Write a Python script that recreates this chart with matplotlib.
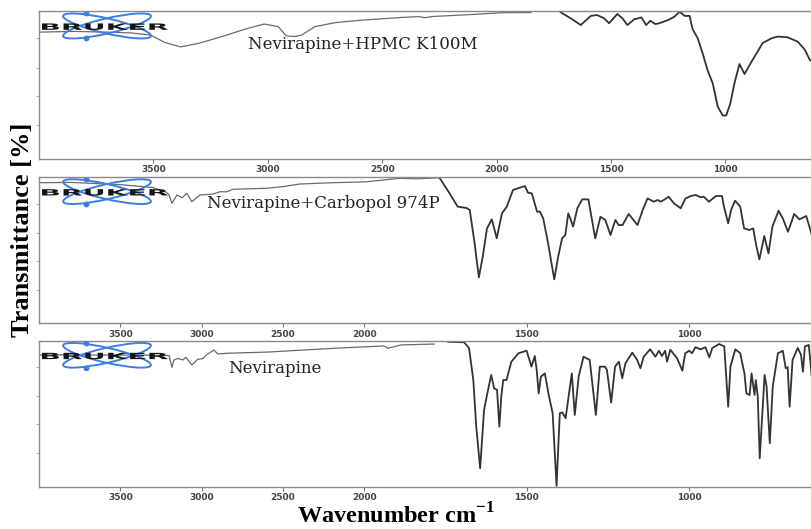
import numpy as np
import matplotlib.pyplot as plt
from matplotlib.patches import Ellipse, PathPatch
from matplotlib.textpath import TextPath
from matplotlib.font_manager import FontProperties
from matplotlib.transforms import Affine2D

plt.rcParams['mathtext.fontset'] = 'custom'
plt.rcParams['mathtext.rm'] = 'Liberation Serif:bold'
plt.rcParams['mathtext.bf'] = 'Liberation Serif:bold'

# Nevirapine + HPMC K100M
wn_hpmc = [4000, 3850, 3700, 3600, 3512, 3450, 3381, 3300, 3200, 3100, 3016, 2954, 2920, 2883,
           2852, 2795, 2707, 2600, 2412, 2340, 2311, 2280, 2100, 1971, 1850, 1720, 1676, 1632,
           1588, 1561, 1530, 1508, 1472, 1450, 1428, 1398, 1385, 1367, 1346, 1328, 1306, 1289,
           1253, 1222, 1200, 1178, 1156, 1143, 1121, 1099, 1077, 1055, 1033, 1011, 996, 978,
           960, 938, 916, 886, 859, 837, 798, 771, 727, 683, 652, 630, 617]
t_hpmc = [86, 86.5, 86, 85.5, 84, 79, 76, 78.5, 83, 88, 91.5, 89.7, 83.5, 83,
          84, 89.7, 92.4, 94, 96, 96.5, 95.8, 96.6, 98, 99.2, 99.3, 99.5, 95.4, 90.8,
          97, 97.6, 95.4, 92, 98.3, 95.4, 90.8, 94.7, 95.2, 96, 90.8, 93.7, 91.5, 92,
          94, 96.5, 99.9, 97, 97, 88, 82, 71.6, 60, 51.3, 35.5, 29.5, 29.5, 37.7,
          51.3, 64.4, 57.6, 65.8, 72.7, 78.6, 81.8, 83, 82.5, 79.5, 74, 67, 66]

# Nevirapine + Carbopol 974P
wn_carb = [4000, 3800, 3600, 3500, 3300, 3220, 3200, 3182, 3151, 3120, 3090, 3060, 3010, 2930,
           2888, 2845, 2808, 2600, 2500, 2398, 2196, 1994, 1892, 1840, 1768, 1737, 1712, 1685,
           1675, 1660, 1647, 1635, 1622, 1607, 1592, 1576, 1561, 1542, 1527, 1505, 1496, 1484,
           1468, 1459, 1449, 1434, 1415, 1403, 1391, 1381, 1372, 1366, 1357, 1344, 1329, 1310,
           1298, 1289, 1273, 1258, 1242, 1227, 1217, 1205, 1186, 1159, 1143, 1128, 1109, 1097,
           1088, 1078, 1063, 1047, 1026, 1011, 995, 980, 964, 955, 939, 918, 899, 893,
           880, 871, 859, 843, 831, 815, 803, 794, 784, 769, 756, 744, 725, 712,
           696, 677, 661, 640, 621]
t_carb = [96.3, 96.5, 95.5, 95, 93, 90, 88, 82.2, 87.9, 86, 89, 83.3, 87.9, 88.5,
          90.1, 90.1, 91.8, 92.5, 93.6, 95.4, 96.3, 96.9, 99.3, 99, 99.7, 89, 79.9, 79,
          77.6, 54.8, 31.5, 45.6, 65, 71.2, 58.2, 75.3, 79.9, 91.3, 92.5, 94, 89.5, 89,
          76.5, 76.5, 71.9, 54.8, 30.1, 45.6, 58.2, 60.5, 75.3, 72, 66.2, 78.8, 84.9, 84.9,
          69.6, 58.2, 73, 70.8, 60.5, 70.8, 67.3, 67.3, 74.9, 67.3, 77.6, 85.6, 83.3, 84.5,
          83.3, 84.5, 86.7, 82.2, 78.8, 85.6, 87.2, 87.9, 86.3, 86.7, 83.3, 87.2, 87.2, 79.9,
          68.5, 77.6, 84, 79.9, 65, 63.9, 65, 53.6, 43.8, 59.8, 47.9, 66.2, 77.1, 71.9,
          62.7, 74.9, 71.2, 73.5, 59.3]

# Nevirapine
wn_nev = [4000, 3800, 3600, 3400, 3200, 3182, 3170, 3145, 3115, 3096, 3060, 3024, 2992, 2962,
          2924, 2900, 2838, 2592, 2185, 1939, 1927, 1887, 1784, 1742, 1692, 1677, 1664, 1655,
          1643, 1631, 1621, 1609, 1600, 1591, 1584, 1578, 1572, 1562, 1547, 1525, 1500, 1485,
          1475, 1469, 1463, 1456, 1444, 1432, 1420, 1408, 1398, 1390, 1380, 1371, 1361, 1352,
          1340, 1325, 1306, 1287, 1275, 1259, 1253, 1240, 1228, 1216, 1206, 1196, 1175, 1160,
          1150, 1140, 1120, 1104, 1093, 1084, 1074, 1068, 1058, 1046, 1037, 1021, 1012, 1000,
          991, 981, 965, 950, 938, 929, 908, 892, 886, 880, 873, 858, 843, 830,
          824, 814, 808, 799, 795, 789, 783, 768, 762, 752, 743, 727, 712, 703,
          697, 691, 682, 666, 656, 650, 644, 632, 617]
t_nev = [90.4, 90.5, 90.3, 90.4, 90, 81.9, 87, 88, 87, 88.8, 83.5, 87.4, 88, 91.1,
         93.8, 91.1, 91.6, 92.4, 95, 96.6, 95, 97.3, 97.9, 99.5, 99.1, 95, 73.2, 41.2,
         12.6, 52.6, 64, 76.7, 67.5, 66.5, 41.2, 61.8, 73.2, 73.2, 85.8, 91.6, 93.3, 82.4,
         89.7, 80.1, 64.1, 75.5, 77.8, 62.9, 50.4, 0.5, 50.4, 51, 47, 61.8, 77.8, 49.2,
         75.5, 89.2, 87, 49.2, 82.4, 82.4, 80.1, 57.7, 82.4, 85.8, 74.4, 84.7, 92, 87,
         81.3, 89.2, 94.3, 89.2, 93.3, 89.7, 93.3, 85.8, 94, 90.6, 88.1, 79.6, 91.6, 93.3,
         91.6, 95.7, 94.3, 95.7, 88.8, 95.2, 97.9, 96.3, 75.5, 54.9, 82.4, 94.3, 91.6, 77.8,
         64.1, 62.9, 77.8, 62.9, 73.2, 61.8, 19.5, 76.7, 69, 29.8, 68.6, 91.6, 93.3, 81.3,
         82, 54.9, 87, 95.2, 90.6, 78.9, 96.3, 97.3, 61.8]

labels = ['Nevirapine+HPMC K100M', 'Nevirapine+Carbopol 974P', 'Nevirapine']
ticks = [3500, 3000, 2500, 2000, 1500, 1000]


def fwd(w):
    w = np.asarray(w, dtype=float)
    return np.where(w >= 2000, w, 2 * w - 2000)


def inv(t):
    t = np.asarray(t, dtype=float)
    return np.where(t >= 2000, t, (t + 2000) / 2)


def draw_logo(ax):
    lg = ax.inset_axes([0.0013, 0.80, 0.171, 0.197])
    lg.set_xlim(0, 132)
    lg.set_ylim(0, 29)
    lg.axis('off')
    for ang in (13, -13):
        lg.add_patch(Ellipse((67, 15), 90, 15, angle=ang, fill=False,
                             ec='#3d7fe0', lw=1.4))
    lg.plot([46, 46], [27.5, 2.5], 'o', color='#3d7fe0', ms=3.2)
    tp = TextPath((0, 0), 'BRUKER', size=10,
                  prop=FontProperties(family='DejaVu Sans', weight='bold'))
    bb = tp.get_extents()
    tr = (Affine2D().translate(-bb.x0, -bb.y0)
          .scale(126 / bb.width, 6.5 / bb.height).translate(2, 11))
    lg.add_patch(PathPatch(tr.transform_path(tp), fc='#151515', ec='none'))


fig = plt.figure(figsize=(8.11, 5.29), dpi=100)
boxes = [[0.0481, 0.6994, 0.952, 0.2789],
         [0.0481, 0.3888, 0.952, 0.2760],
         [0.0481, 0.0800, 0.952, 0.2754]]
data = [(wn_hpmc, t_hpmc), (wn_carb, t_carb), (wn_nev, t_nev)]
text_pos = [(0.2707, 0.773), (0.2176, 0.824), (0.2448, 0.808)]

for i, (box, (wn, tr_), lab, tpos) in enumerate(zip(boxes, data, labels, text_pos)):
    ax = fig.add_axes(box)
    if i > 0:
        ax.set_xscale('function', functions=(fwd, inv))
    wn = np.array(wn)
    tr_ = np.array(tr_)
    hi = wn >= 1760
    ax.plot(wn[hi], tr_[hi], color='#6a6a6a', lw=0.9)
    ax.plot(wn[wn <= 1768], tr_[wn <= 1768], color='#333333', lw=1.3)
    ax.set_xlim(4000, 625)
    ax.set_ylim(0, 100)
    ax.set_xticks(ticks)
    ax.set_xticklabels([str(t) for t in ticks])
    ax.set_yticks([23, 43, 62, 82])
    ax.set_yticklabels([])
    ax.tick_params(axis='x', direction='out', length=3, width=0.8, color='#777777',
                   pad=1.5, labelsize=6.5, labelcolor='#444444')
    ax.tick_params(axis='y', direction='out', length=2, width=0.6, color='#999999')
    for lbl in ax.get_xticklabels():
        lbl.set_fontweight('bold')
    for s in ['top', 'bottom', 'left']:
        ax.spines[s].set_color('#8a8a8a')
        ax.spines[s].set_linewidth(1.0)
    ax.spines['right'].set_visible(False)
    ax.text(tpos[0], tpos[1], lab, transform=ax.transAxes, ha='left', va='center',
            fontsize=12, family='DejaVu Serif', color='#222222')
    draw_logo(ax)

fig.text(23 / 811, 1 - 230 / 529, 'Transmittance [%]', rotation=90, ha='center',
         va='center', fontsize=19, fontweight='bold', family='Liberation Serif')
fig.text(396 / 811, 1 / 529, r'Wavenumber cm$^{\mathbf{-1}}$', ha='center',
         va='bottom', fontsize=17.5, fontweight='bold', family='Liberation Serif')

fig.savefig('out.png', dpi=100)
